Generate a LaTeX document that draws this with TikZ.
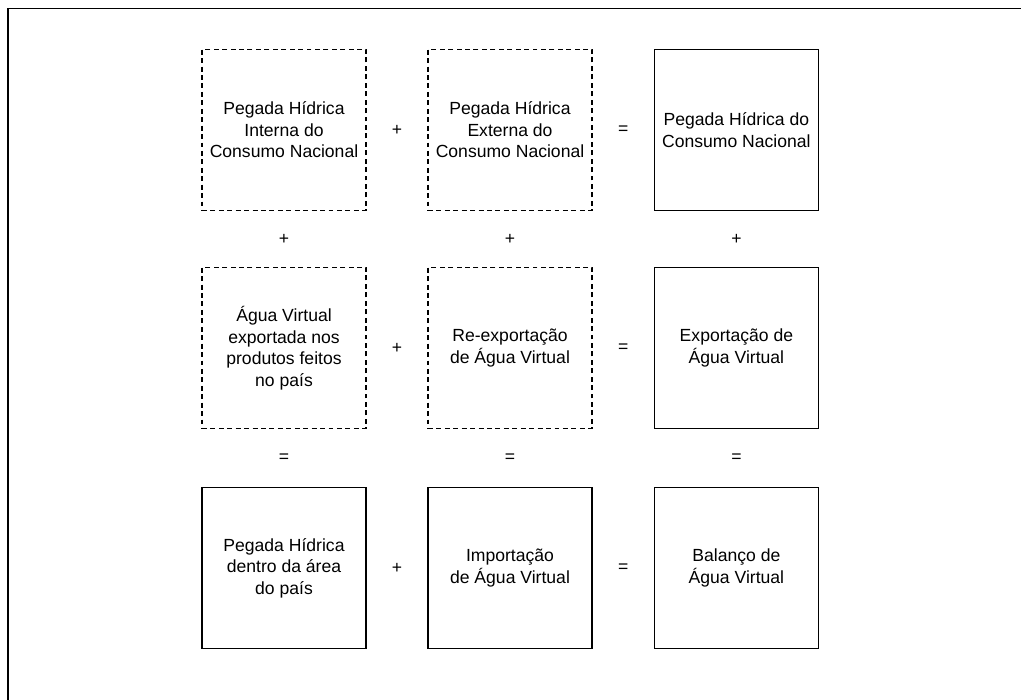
\documentclass[tikz,border=0pt]{standalone}
\usepackage{fontspec}
\setmainfont{Liberation Sans}
\usetikzlibrary{calc}

\tikzset{
  termbox/.style={rectangle,draw=black,line width=0.9pt,minimum width=4.1cm,minimum height=4.025cm,align=center,inner sep=0pt,font=\fontsize{12.5}{15.3}\selectfont},
  partbox/.style={termbox,dash pattern=on 3.5pt off 2.5pt},
  oper/.style={font=\fontsize{12.5}{15.3}\selectfont}
}

\begin{document}
\begin{tikzpicture}
      \useasboundingbox (0,0) rectangle (25.525,17.5);
      \clip (0,0) rectangle (25.525,17.5);
      \draw [line width=0.9pt] (0.2,-1) rectangle (27,17.29);
      % first row
      \node (b11) [partbox] at (7.1,14.25) {Pegada Hídrica\\Interna do\\Consumo Nacional};
      \node (b12) [partbox] at (12.75,14.25) {Pegada Hídrica\\Externa do\\Consumo Nacional};
      \node (b13) [termbox] at (18.41,14.25) {Pegada Hídrica do\\Consumo Nacional};
      % second row
      \node (b21) [partbox] at (7.1,8.8) {Água Virtual\\exportada nos\\produtos feitos\\no país};
      \node (b22) [partbox] at (12.75,8.8) {Re-exportação\\de Água Virtual};
      \node (b23) [termbox] at (18.41,8.8) {Exportação de\\Água Virtual};
      % third row
      \node (b31) [termbox] at (7.1,3.3) {Pegada Hídrica\\dentro da área\\do país};
      \node (b32) [termbox] at (12.75,3.3) {Importação\\de Água Virtual};
      \node (b33) [termbox] at (18.41,3.3) {Balanço de\\Água Virtual};
      % operators
      \foreach \r in {1,2,3}{
        \node (p\r) [oper] at ($ (b\r1)!0.5!(b\r2) $) {+};
        \node (e\r) [oper] at ($ (b\r2)!0.5!(b\r3) $) {=};
      }
      \foreach \c in {1,2,3}{
        \node (q\c) [oper] at ($ (b1\c.south)!0.5!(b2\c.north) $) {+};
        \node (f\c) [oper] at ($ (b2\c.south)!0.5!(b3\c.north) $) {=};
      }
    \end{tikzpicture}
\end{document}
